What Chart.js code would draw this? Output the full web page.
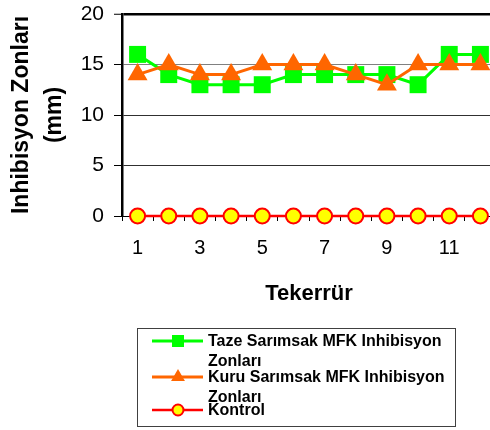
<!DOCTYPE html>
<html>
<head>
<meta charset="utf-8">
<script src="https://cdn.jsdelivr.net/npm/chart.js@4/dist/chart.umd.min.js"></script>
<style>
  html, body { margin: 0; padding: 0; background: #fff; overflow: hidden; }
  #wrap { position: relative; width: 500px; height: 430px; }
</style>
</head>
<body>
<div id="wrap"><canvas id="c" width="500" height="430"></canvas></div>
<script>
// Tekerrür (repetition) numbers
const categories = ['1', '2', '3', '4', '5', '6', '7', '8', '9', '10', '11', '12'];
// Inhibition zone diameters, mm
const tazeValues = [16, 14, 13, 13, 13, 14, 14, 14, 14, 13, 16, 16];
const kuruValues = [14, 15, 14, 14, 15, 15, 15, 14, 13, 15, 15, 15];
const kontrolValues = [0, 0, 0, 0, 0, 0, 0, 0, 0, 0, 0, 0];
const yTicks = [0, 5, 10, 15, 20];

const seriesNames = [
  ['Taze Sarımsak MFK Inhibisyon', 'Zonları'],
  ['Kuru Sarımsak MFK Inhibisyon', 'Zonları'],
  ['Kontrol']
];

const FONT = "Arial, 'Liberation Sans', Helvetica, sans-serif";

function drawMarker(ctx, style, x, y, r, fill, stroke, bw) {
  ctx.save();
  ctx.beginPath();
  if (style === 'rect') {
    const s = Math.SQRT1_2 * r;
    ctx.rect(x - s, y - s, 2 * s, 2 * s);
  } else if (style === 'triangle') {
    let a = 0;
    ctx.moveTo(x + Math.sin(a) * r, y - Math.cos(a) * r);
    a += 2 * Math.PI / 3;
    ctx.lineTo(x + Math.sin(a) * r, y - Math.cos(a) * r);
    a += 2 * Math.PI / 3;
    ctx.lineTo(x + Math.sin(a) * r, y - Math.cos(a) * r);
    ctx.closePath();
  } else {
    ctx.arc(x, y, r, 0, Math.PI * 2);
  }
  ctx.fillStyle = fill;
  ctx.fill();
  if (bw > 0) {
    ctx.lineWidth = bw;
    ctx.strokeStyle = stroke;
    ctx.stroke();
  }
  ctx.restore();
}

// Boxed legend under the x-axis title, with wrapped labels
const boxLegend = {
  id: 'boxLegend',
  afterDraw(chart) {
    const ctx = chart.ctx;
    const box = { x: 137.5, y: 328.5, w: 318, h: 98 };
    ctx.save();
    ctx.strokeStyle = '#404040';
    ctx.lineWidth = 1;
    ctx.strokeRect(box.x, box.y, box.w, box.h);
    const rows = [341, 377, 410];
    const lineH = 20;
    ctx.font = 'bold 16px ' + FONT;
    ctx.textBaseline = 'middle';
    ctx.textAlign = 'left';
    chart.data.datasets.forEach((ds, i) => {
      const y = rows[i];
      ctx.beginPath();
      ctx.strokeStyle = ds.borderColor;
      ctx.lineWidth = ds.borderWidth;
      ctx.moveTo(152, y);
      ctx.lineTo(203, y);
      ctx.stroke();
      const r = ds.pointStyle === 'circle' ? 5.5 : (ds.pointStyle === 'rect' ? 8.5 : 8);
      drawMarker(ctx, ds.pointStyle, 178, y, r, ds.pointBackgroundColor,
                 ds.pointBorderColor, ds.pointStyle === 'circle' ? 2 : 0);
      ctx.fillStyle = '#000';
      seriesNames[i].forEach((t, k) => ctx.fillText(t, 208, y + 1 + k * lineH));
    });
    ctx.restore();
  }
};

new Chart(document.getElementById('c'), {
  type: 'line',
  data: {
    labels: categories,
    datasets: [
      {
        label: seriesNames[0].join(' '),
        data: tazeValues,
        borderColor: '#00FF00',
        borderWidth: 3,
        pointStyle: 'rect',
        pointRadius: 12,
        pointHoverRadius: 12,
        pointBackgroundColor: '#00FF00',
        pointBorderColor: '#00FF00',
        pointBorderWidth: 0,
        order: 3,
        clip: false
      },
      {
        label: seriesNames[1].join(' '),
        data: kuruValues,
        borderColor: '#FF6600',
        borderWidth: 3,
        pointStyle: 'triangle',
        pointRadius: 11.5,
        pointHoverRadius: 11.5,
        pointBackgroundColor: '#FF6600',
        pointBorderColor: '#FF6600',
        pointBorderWidth: 0,
        order: 2,
        clip: false
      },
      {
        label: seriesNames[2][0],
        data: kontrolValues,
        borderColor: '#FF0000',
        borderWidth: 2.5,
        pointStyle: 'circle',
        pointRadius: 7.5,
        pointHoverRadius: 7.5,
        pointBackgroundColor: '#FFFF00',
        pointBorderColor: '#FF0000',
        pointBorderWidth: 2,
        order: 1,
        clip: false
      }
    ]
  },
  options: {
    responsive: false,
    animation: false,
    events: [],
    layout: { autoPadding: false, padding: { left: 0, top: 14, right: 4, bottom: 123 } },
    plugins: {
      legend: { display: false },
      tooltip: { enabled: false }
    },
    scales: {
      x: {
        type: 'category',
        offset: true,
        grid: {
          offset: true,
          drawOnChartArea: false,
          drawTicks: true,
          tickLength: 5,
          tickColor: '#000',
          tickWidth: 1
        },
        border: { display: true, color: '#000', width: 1 },
        ticks: {
          autoSkip: false,
          maxRotation: 0,
          padding: 15,
          color: '#000',
          font: { family: FONT, size: 20 },
          callback: function (v, i) { return i % 2 === 0 ? this.getLabelForValue(v) : ''; }
        },
        title: {
          display: true,
          text: 'Tekerrür',
          color: '#000',
          font: { family: FONT, size: 22, weight: 'bold' },
          padding: 0
        },
        afterFit(scale) {
          scale.height = 91;
          scale.paddingLeft = 0;
          scale.paddingRight = 0;
        }
      },
      y: {
        min: 0,
        max: 20,
        afterBuildTicks(scale) { scale.ticks = yTicks.map(v => ({ value: v })); },
        grid: {
          color: ctx => {
            const v = ctx.tick ? ctx.tick.value : null;
            if (v === 20) return '#000';
            if (v === 15) return '#808080';
            if (v === 0) return 'rgba(0,0,0,0)';
            return '#303030';
          },
          lineWidth: ctx => (ctx.tick && ctx.tick.value === 20 ? 2.5 : 1),
          tickLength: 8,
          tickColor: '#000',
          tickWidth: 1
        },
        border: { display: true, color: '#000', width: 2.5 },
        ticks: {
          padding: 10,
          color: '#000',
          font: { family: FONT, size: 21 }
        },
        title: {
          display: true,
          text: ['Inhibisyon Zonları', '(mm)'],
          color: '#000',
          font: { family: FONT, size: 23, weight: 'bold', lineHeight: 1.4 },
          padding: { top: 6, bottom: 0 }
        },
        afterFit(scale) {
          scale.width = 122;
          scale.paddingTop = 0;
          scale.paddingBottom = 0;
        }
      }
    }
  },
  plugins: [boxLegend]
});
</script>
</body>
</html>
